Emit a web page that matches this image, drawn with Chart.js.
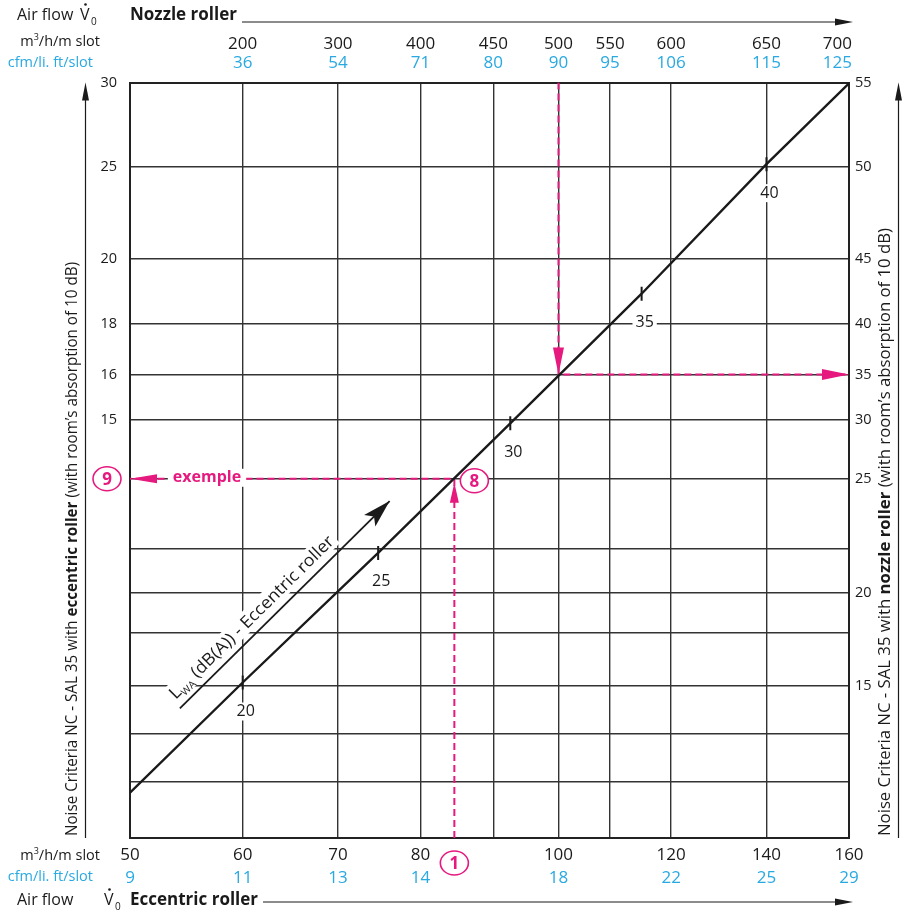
<!DOCTYPE html>
<html lang="en">
<head>
<meta charset="UTF-8">
<title>Noise Criteria NC - SAL 35</title>
<script src="https://cdn.jsdelivr.net/npm/chart.js"></script>
<style>
  body { margin: 0; background: #fff; }
  #wrap { width: 913px; height: 915px; }
</style>
</head>
<body>
<div id="wrap"><canvas id="ncChart" width="913" height="915"></canvas></div>
<script>
// bottom scale: eccentric roller air flow (m3/h/m slot), vertical grid lines
const eccentricFlow = [50, 60, 70, 80, 90, 100, 108.7, 120, 140, 160];
const eccentricFlowLabels = ['50', '60', '70', '80', '', '100', '', '120', '140', '160'];
const eccentricCfmLabels = ['9', '11', '13', '14', '', '18', '', '22', '25', '29'];

// top scale: nozzle roller air flow, read against the eccentric scale
const nozzleAtEccentric = [60, 70, 80, 90, 100, 108.7, 120, 140, 157];
const nozzleFlowLabels = ['200', '300', '400', '450', '500', '550', '600', '650', '700'];
const nozzleCfmLabels = ['36', '54', '71', '80', '90', '95', '106', '115', '125'];

// horizontal grid lines, on the LWA dB(A) scale of the eccentric line
const levels = [14.0, 16.19, 18.02, 19.88, 21.94, 23.47, 25.16, 27.86, 30.14, 31.88, 33.83, 36.36, 39.9, 43.15];
const ncEccentricLabels = ['', '', '', '', '', '', '', '', '15', '16', '18', '20', '25', '30'];
const ncNozzleLabels = ['', '', '', '15', '', '20', '', '25', '30', '35', '40', '45', '50', '55'];

// LWA line of the eccentric roller
const lwaFlow = [50, 60, 74.7, 92.5, 114.4, 140, 160];
const lwaLevel = [15.75, 20, 25, 30, 35, 40, 43.12];
const lwaMarkFlow = [60, 74.7, 92.5, 114.4, 140];
const lwaMarks = [20, 25, 30, 35, 40];

// arrow beside the LWA line (caption)
const captionFlow = [54.2, 76.1];
const captionLevel = [19.0, 27.0];

// example: nozzle roller 500 -> NC 35
const nozzleExFlow = [100, 100, 160];
const nozzleExLevel = [43.15, 31.88, 31.88];
// example: eccentric roller (1) -> (8) -> NC (9)
const eccExFlow = [84.5, 84.5, 50];
const eccExLevel = [14.0, 27.86, 27.86];

const INK = '#1a1a1a';
const BLUE = '#29a9e1';
const PINK = '#e5197e';
const GRID = '#333';
const FONT = '"Open Sans", "Noto Sans", sans-serif';

const pts = (xs, ys) => xs.map((x, i) => ({ x: x, y: ys[i] }));

function head(ctx, x0, y0, x1, y1, len, half, color, notch) {
  const a = Math.atan2(y1 - y0, x1 - x0);
  ctx.save();
  ctx.translate(x1, y1);
  ctx.rotate(a);
  ctx.beginPath();
  ctx.moveTo(0, 0);
  ctx.lineTo(-len, -half);
  ctx.lineTo(-len + (notch || 0), 0);
  ctx.lineTo(-len, half);
  ctx.closePath();
  ctx.fillStyle = color;
  ctx.fill();
  ctx.restore();
}

function lineArrow(ctx, x0, y0, x1, y1, color) {
  ctx.save();
  ctx.strokeStyle = color;
  ctx.lineWidth = 1.2;
  ctx.beginPath();
  ctx.moveTo(x0, y0);
  ctx.lineTo(x1 - 14, y1);
  ctx.stroke();
  ctx.restore();
  head(ctx, x0, y0, x1, y1, 18, 3.5, color, 0);
}

function boxedText(ctx, txt, x, y, font, color, padX, padY) {
  ctx.font = font;
  const w = ctx.measureText(txt).width;
  ctx.fillStyle = '#fff';
  ctx.fillRect(x - w / 2 - padX, y - 7 - padY, w + padX * 2, 14 + padY * 2);
  ctx.fillStyle = color;
  ctx.textAlign = 'center';
  ctx.textBaseline = 'middle';
  ctx.fillText(txt, x, y);
}

function circled(ctx, txt, x, y) {
  ctx.save();
  ctx.beginPath();
  ctx.ellipse(x, y, 14, 12, 0, 0, Math.PI * 2);
  ctx.fillStyle = '#fff';
  ctx.fill();
  ctx.strokeStyle = PINK;
  ctx.lineWidth = 1.6;
  ctx.stroke();
  ctx.fillStyle = PINK;
  ctx.font = 'bold 17px ' + FONT;
  ctx.textAlign = 'center';
  ctx.textBaseline = 'middle';
  ctx.fillText(txt, x, y + 1);
  ctx.restore();
}

function sideTitle(ctx, parts, cx, yStart, yEnd, size) {
  ctx.save();
  ctx.translate(cx, yStart);
  ctx.rotate(-Math.PI / 2);
  let total = 0;
  parts.forEach(p => {
    ctx.font = (p.b ? 'bold ' : '') + size + 'px ' + FONT;
    p.w = ctx.measureText(p.t).width;
    total += p.w;
  });
  ctx.scale((yStart - yEnd) / total, 1);
  ctx.fillStyle = INK;
  ctx.textAlign = 'left';
  ctx.textBaseline = 'middle';
  let x = 0;
  parts.forEach(p => {
    ctx.font = (p.b ? 'bold ' : '') + size + 'px ' + FONT;
    ctx.fillText(p.t, x, 0);
    x += p.w;
  });
  ctx.restore();
}

function flowCaption(ctx, x, yBase, vx) {
  // "Air flow  V̇0"
  ctx.fillStyle = INK;
  ctx.textAlign = 'left';
  ctx.textBaseline = 'alphabetic';
  ctx.font = '16px ' + FONT;
  ctx.fillText('Air flow', x, yBase);
  ctx.fillText('V', vx, yBase);
  ctx.beginPath();
  ctx.arc(vx + 5.5, yBase - 15.5, 1.3, 0, Math.PI * 2);
  ctx.fill();
  ctx.font = '10px ' + FONT;
  ctx.fillText('0', vx + 11, yBase + 5);
}

const decorations = {
  id: 'decorations',
  beforeDatasetsDraw(chart) {
    const ctx = chart.ctx;
    ctx.save();
    // numbers along the LWA line
    chart.getDatasetMeta(1).data.forEach((el, i) => {
      boxedText(ctx, String(lwaMarks[i]), el.x + 3, el.y + 29, '16px ' + FONT, INK, 3, 2);
    });
    // caption along the arrow
    const cap = chart.getDatasetMeta(2).data;
    const a = Math.atan2(cap[1].y - cap[0].y, cap[1].x - cap[0].x);
    ctx.translate(cap[0].x, cap[0].y);
    ctx.rotate(a);
    ctx.translate(3, -9);
    ctx.font = '17px ' + FONT;
    const wL = ctx.measureText('L').width;
    ctx.font = '10px ' + FONT;
    const wSub = ctx.measureText('WA').width;
    ctx.font = '17px ' + FONT;
    const rest = ' (dB(A)) - Eccentric roller';
    const wRest = ctx.measureText(rest).width;
    const sx = 224 / (wL + wSub + wRest);
    ctx.scale(sx, 1);
    ctx.fillStyle = '#fff';
    ctx.fillRect(-3, -16, wL + wSub + wRest + 6, 20);
    ctx.fillStyle = INK;
    ctx.textBaseline = 'alphabetic';
    ctx.textAlign = 'left';
    ctx.fillText('L', 0, 0);
    ctx.font = '10px ' + FONT;
    ctx.fillText('WA', wL, 4);
    ctx.font = '17px ' + FONT;
    ctx.fillText(rest, wL + wSub, 0);
    ctx.restore();
  },
  afterDatasetsDraw(chart) {
    const ctx = chart.ctx;
    const area = chart.chartArea;
    const xs = chart.scales.x;
    ctx.save();
    // arrow heads on the example paths
    [3, 4].forEach(di => {
      const p = chart.getDatasetMeta(di).data;
      head(ctx, p[0].x, p[0].y, p[1].x, p[1].y + (di === 4 ? 4 : 0), di === 4 ? 20 : 27, di === 4 ? 4.5 : 5.5, PINK, 0);
      head(ctx, p[1].x, p[1].y, p[2].x, p[2].y, 27, di === 4 ? 4.5 : 5.5, PINK, 0);
    });
    // head of the caption arrow
    const cap = chart.getDatasetMeta(2).data;
    head(ctx, cap[0].x, cap[0].y, cap[1].x, cap[1].y, 28, 8, INK, 6);

    const ex = chart.getDatasetMeta(4).data;
    boxedText(ctx, 'exemple', area.left + 77, ex[1].y - 1, 'bold 16px ' + FONT, PINK, 5, 2);
    circled(ctx, '9', area.left - 23, ex[1].y);
    circled(ctx, '8', ex[1].x + 20, ex[1].y + 2);
    circled(ctx, '1', xs.getPixelForValue(eccExFlow[0]), area.bottom + 25);
    ctx.restore();
  },
  afterDraw(chart) {
    const ctx = chart.ctx;
    const area = chart.chartArea;
    ctx.save();
    // top heading
    flowCaption(ctx, 17, 20, 80);
    ctx.font = 'bold 17px ' + FONT;
    ctx.fillText('Nozzle roller', area.left, 20);
    lineArrow(ctx, 242, 22, area.right + 4, 22, INK);
    // bottom heading
    flowCaption(ctx, 17, 905, 104);
    ctx.font = 'bold 17px ' + FONT;
    ctx.fillText('Eccentric roller', area.left, 905);
    lineArrow(ctx, 263, 902, area.right + 4, 902, INK);

    // unit captions
    ctx.textAlign = 'right';
    ctx.textBaseline = 'alphabetic';
    [46, 860].forEach(y => {
      ctx.fillStyle = INK;
      ctx.font = '14.5px ' + FONT;
      const t2 = '/h/m slot';
      const w2 = ctx.measureText(t2).width;
      ctx.fillText(t2, 100, y);
      ctx.font = '9px ' + FONT;
      ctx.fillText('3', 100 - w2, y - 6);
      const w3 = ctx.measureText('3').width;
      ctx.font = '14.5px ' + FONT;
      ctx.fillText('m', 100 - w2 - w3, y);
      ctx.fillStyle = BLUE;
      ctx.fillText('cfm/li. ft/slot', 93, y + 21);
    });

    // vertical axis titles with arrows
    ctx.strokeStyle = INK;
    ctx.lineWidth = 1.2;
    ctx.beginPath();
    ctx.moveTo(85.5, area.bottom);
    ctx.lineTo(85.5, area.top + 12);
    ctx.moveTo(898.5, area.bottom);
    ctx.lineTo(898.5, area.top + 12);
    ctx.stroke();
    head(ctx, 85.5, area.bottom, 85.5, area.top, 18, 3.5, INK, 0);
    head(ctx, 898.5, area.bottom, 898.5, area.top, 18, 3.5, INK, 0);
    sideTitle(ctx, [
      { t: 'Noise Criteria NC - SAL 35 with ' },
      { t: 'eccentric roller', b: true },
      { t: ' (with room\u2019s absorption of 10 dB)' }
    ], 72, area.bottom - 2, 262, 16);
    sideTitle(ctx, [
      { t: 'Noise Criteria NC - SAL 35 with ' },
      { t: 'nozzle roller', b: true },
      { t: ' (with room\u2019s absorption of 10 dB)' }
    ], 885, area.bottom - 2, 228, 16);
    ctx.restore();
  }
};

const setTicks = values => scale => { scale.ticks = values.map(v => ({ value: v })); };

const ctx = document.getElementById('ncChart').getContext('2d');
const chart = new Chart(ctx, {
  type: 'scatter',
  data: {
    datasets: [
      {
        data: pts(lwaFlow, lwaLevel),
        showLine: true, borderColor: INK, borderWidth: 2.4, pointRadius: 0
      },
      {
        data: pts(lwaMarkFlow, lwaMarks),
        showLine: false, pointStyle: 'line', rotation: 90, pointRadius: 7,
        borderColor: INK, pointBorderWidth: 2
      },
      {
        data: pts(captionFlow, captionLevel),
        showLine: true, borderColor: INK, borderWidth: 1.8, pointRadius: 0
      },
      {
        data: pts(nozzleExFlow, nozzleExLevel),
        showLine: true, borderColor: PINK, borderWidth: 2, borderDash: [7, 4], pointRadius: 0
      },
      {
        data: pts(eccExFlow, eccExLevel),
        showLine: true, borderColor: PINK, borderWidth: 2, borderDash: [7, 4], pointRadius: 0
      }
    ]
  },
  options: {
    responsive: false,
    animation: false,
    events: [],
    layout: { padding: 0 },
    plugins: { legend: { display: false }, tooltip: { enabled: false } },
    scales: {
      x: {
        type: 'logarithmic', position: 'bottom', min: 50, max: 160, weight: 0,
        afterBuildTicks: setTicks(eccentricFlow),
        afterFit: s => { s.height = 30; },
        grid: { color: GRID, lineWidth: 1.4, drawTicks: false },
        border: { color: '#222', width: 2 },
        ticks: {
          autoSkip: false, maxRotation: 0, padding: 7, color: INK,
          font: { family: FONT, size: 17 },
          callback: (v, i) => eccentricFlowLabels[i]
        }
      },
      xCfm: {
        axis: 'x', type: 'logarithmic', position: 'bottom', min: 50, max: 160, weight: 1,
        afterBuildTicks: setTicks(eccentricFlow),
        afterFit: s => { s.height = 47; },
        grid: { display: false, drawTicks: false },
        border: { display: false },
        ticks: {
          autoSkip: false, maxRotation: 0, padding: 0, color: BLUE,
          font: { family: FONT, size: 17 },
          callback: (v, i) => eccentricCfmLabels[i]
        }
      },
      xTop: {
        axis: 'x', type: 'logarithmic', position: 'top', min: 50, max: 160, weight: 1,
        afterBuildTicks: setTicks(nozzleAtEccentric),
        afterFit: s => { s.height = 56; },
        grid: { display: false, drawTicks: false },
        border: { display: false },
        ticks: {
          autoSkip: false, maxRotation: 0, padding: 2, color: INK,
          font: { family: FONT, size: 17 },
          callback: (v, i) => nozzleFlowLabels[i]
        }
      },
      xTopCfm: {
        axis: 'x', type: 'logarithmic', position: 'top', min: 50, max: 160, weight: 0,
        afterBuildTicks: setTicks(nozzleAtEccentric),
        afterFit: s => { s.height = 26.5; },
        grid: { display: false, drawTicks: false },
        border: { color: '#222', width: 2 },
        ticks: {
          autoSkip: false, maxRotation: 0, padding: 9, color: BLUE,
          font: { family: FONT, size: 17 },
          callback: (v, i) => nozzleCfmLabels[i]
        }
      },
      y: {
        type: 'linear', position: 'left', min: 14.0, max: 43.15,
        afterBuildTicks: setTicks(levels),
        afterFit: s => { s.width = 130; },
        grid: { color: GRID, lineWidth: 1.4, drawTicks: false },
        border: { color: '#222', width: 2 },
        ticks: {
          padding: 13, color: INK, font: { family: FONT, size: 14.5 },
          callback: (v, i) => ncEccentricLabels[i]
        }
      },
      y2: {
        axis: 'y', type: 'linear', position: 'right', min: 14.0, max: 43.15,
        afterBuildTicks: setTicks(levels),
        afterFit: s => { s.width = 64; },
        grid: { display: false, drawTicks: false },
        border: { color: '#222', width: 2 },
        ticks: {
          padding: 6, color: INK, font: { family: FONT, size: 14.5 },
          callback: (v, i) => ncNozzleLabels[i]
        }
      }
    }
  },
  plugins: [decorations]
});
</script>
</body>
</html>
